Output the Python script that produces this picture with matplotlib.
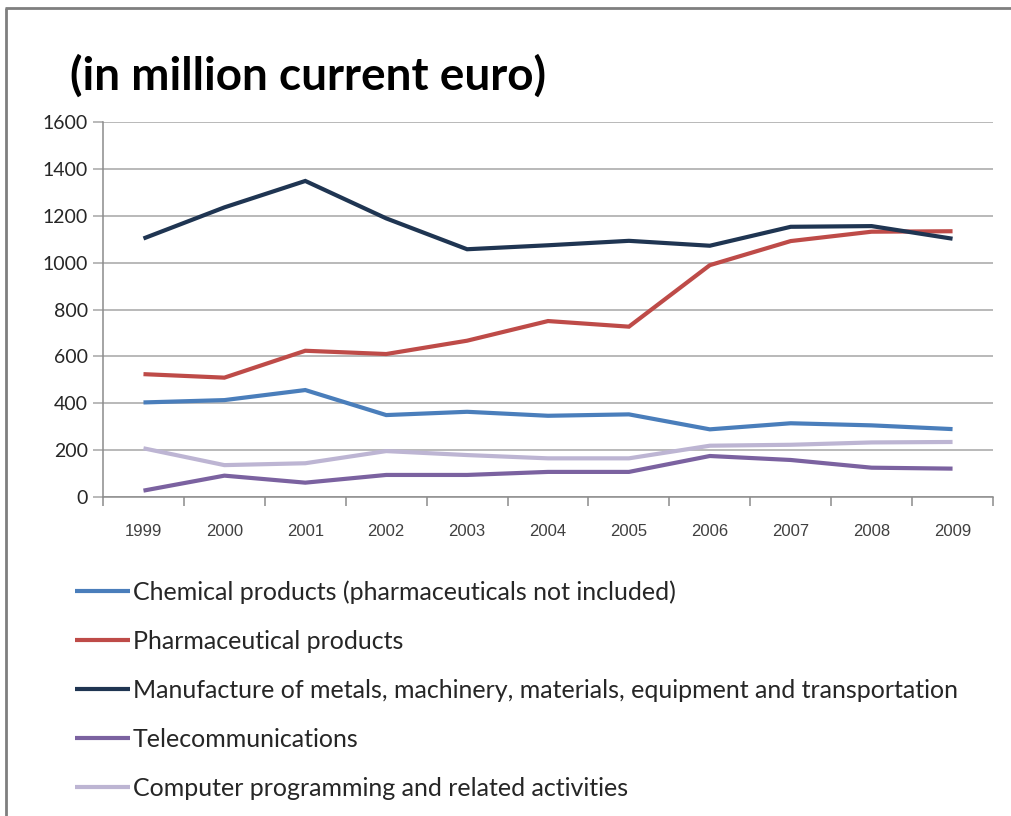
import matplotlib
matplotlib.use('Agg')
import matplotlib.pyplot as plt
from matplotlib.lines import Line2D
import numpy as np

years = ['1999', '2000', '2001', '2002', '2003', '2004', '2005', '2006', '2007', '2008', '2009']
chemical = [403, 413, 456, 349, 363, 346, 352, 288, 314, 305, 289]
pharma = [524, 509, 624, 610, 667, 751, 727, 990, 1093, 1133, 1135]
manufacture = [1104, 1237, 1350, 1190, 1058, 1075, 1094, 1073, 1154, 1157, 1103]
telecom = [26, 90, 60, 93, 93, 106, 106, 174, 157, 124, 120]
computer = [207, 135, 143, 195, 178, 164, 164, 218, 222, 232, 234]

names = ['Chemical products (pharmaceuticals not included)',
         'Pharmaceutical products',
         'Manufacture of metals, machinery, materials, equipment and transportation',
         'Telecommunications',
         'Computer programming and related activities']
colors = ['#4a7ebb', '#be4b48', '#1f3552', '#7b62a0', '#bdb5d3']
series = [chemical, pharma, manufacture, telecom, computer]

fig = plt.figure(figsize=(10.11, 8.16), dpi=100)
ax = fig.add_axes([0.1019, 0.3913, 0.8803, 0.4586])

x = np.arange(len(years))
lines = []
for vals, c, n in zip(series, colors, names):
    ln, = ax.plot(x, vals, color=c, lw=3.0, label=n, solid_capstyle='butt', solid_joinstyle='miter')
    lines.append(ln)

ax.set_xlim(-0.5, len(years) - 0.5)
ax.set_ylim(0, 1600)
ax.set_yticks(range(0, 1601, 200))
ax.yaxis.grid(True, color='#a6a6a6', lw=1.1)
ax.set_axisbelow(True)
for s in ['top', 'right']:
    ax.spines[s].set_visible(False)
for s in ['left', 'bottom']:
    ax.spines[s].set_color('#8c8c8c')
    ax.spines[s].set_linewidth(1.1)

ax.set_xticks(x)
ax.set_xticklabels(years, fontsize=12, color='#404040', family='Liberation Sans')
ax.tick_params(axis='x', which='major', length=0, pad=20)
ax.set_xticks(np.arange(-0.5, len(years)), minor=True)
ax.tick_params(axis='x', which='minor', length=6.5, color='#8c8c8c', width=1.1)
ax.tick_params(axis='y', length=7, color='#a6a6a6', width=1.1, pad=4,
               labelsize=14, labelcolor='#262626')
for t in ax.get_yticklabels():
    t.set_family('Lato')

fig.text(0.069, 0.907, '(in million current euro)', fontsize=33, fontweight='bold',
         family='Lato', va='center', ha='left', color='black')

leg = fig.legend(handles=lines, loc='upper left', bbox_to_anchor=(0.0742, 0.2885),
                 frameon=False, prop={'family': 'Lato', 'size': 18},
                 handlelength=2.2, handletextpad=0.12, labelspacing=1.035,
                 borderaxespad=0, borderpad=0)
for t in leg.get_texts():
    t.set_color('#262626')

# outer frame
fig.add_artist(Line2D([0.005, 1.0], [0.990, 0.990], color='#7f7f7f', lw=2,
                      solid_capstyle='butt', transform=fig.transFigure))
fig.add_artist(Line2D([0.006, 0.006], [0.0, 0.990], color='#7f7f7f', lw=2,
                      solid_capstyle='butt', transform=fig.transFigure))

fig.savefig('out.png', dpi=100)
